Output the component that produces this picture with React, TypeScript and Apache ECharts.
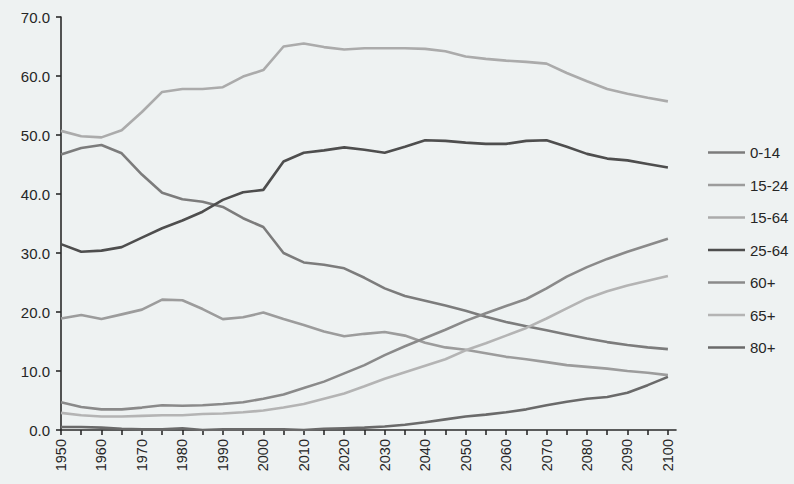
import React, { useEffect, useRef } from "react";
import * as echarts from "echarts";

const years = [1950, 1955, 1960, 1965, 1970, 1975, 1980, 1985, 1990, 1995, 2000, 2005, 2010, 2015, 2020, 2025, 2030, 2035, 2040, 2045, 2050, 2055, 2060, 2065, 2070, 2075, 2080, 2085, 2090, 2095, 2100];

const age0to14 = [46.7, 47.8, 48.3, 46.9, 43.3, 40.2, 39.1, 38.7, 37.8, 35.9, 34.4, 30.0, 28.4, 28.0, 27.4, 25.8, 24.0, 22.7, 21.9, 21.1, 20.2, 19.2, 18.3, 17.6, 16.9, 16.2, 15.5, 14.9, 14.4, 14.0, 13.7];
const age15to24 = [18.9, 19.5, 18.8, 19.6, 20.4, 22.1, 22.0, 20.5, 18.8, 19.1, 19.9, 18.8, 17.8, 16.7, 15.9, 16.3, 16.6, 16.0, 14.8, 14.0, 13.6, 13.0, 12.4, 12.0, 11.5, 11.0, 10.7, 10.4, 10.0, 9.7, 9.3];
const age15to64 = [50.7, 49.8, 49.6, 50.8, 53.9, 57.3, 57.8, 57.8, 58.1, 59.9, 61.0, 65.0, 65.5, 64.9, 64.5, 64.7, 64.7, 64.7, 64.6, 64.2, 63.3, 62.9, 62.6, 62.4, 62.1, 60.5, 59.1, 57.8, 57.0, 56.3, 55.7];
const age25to64 = [31.5, 30.2, 30.4, 31.0, 32.6, 34.2, 35.5, 37.0, 39.0, 40.3, 40.7, 45.5, 47.0, 47.4, 47.9, 47.5, 47.0, 48.0, 49.1, 49.0, 48.7, 48.5, 48.5, 49.0, 49.1, 48.0, 46.8, 46.0, 45.7, 45.1, 44.5];
const age60plus = [4.7, 3.9, 3.5, 3.5, 3.8, 4.2, 4.1, 4.2, 4.4, 4.7, 5.3, 6.0, 7.1, 8.2, 9.6, 11.0, 12.7, 14.2, 15.6, 17.0, 18.5, 19.8, 21.0, 22.2, 24.0, 26.0, 27.6, 29.0, 30.2, 31.3, 32.4];
const age65plus = [2.9, 2.5, 2.3, 2.3, 2.4, 2.5, 2.5, 2.7, 2.8, 3.0, 3.3, 3.8, 4.4, 5.3, 6.2, 7.4, 8.7, 9.8, 10.9, 12.0, 13.5, 14.7, 16.0, 17.3, 18.9, 20.6, 22.3, 23.5, 24.5, 25.3, 26.1];
const age80plus = [0.5, 0.5, 0.4, 0.2, 0.1, 0.1, 0.3, 0.0, 0.1, 0.1, 0.1, 0.1, 0.0, 0.2, 0.3, 0.4, 0.6, 0.9, 1.3, 1.8, 2.3, 2.6, 3.0, 3.5, 4.2, 4.8, 5.3, 5.6, 6.3, 7.6, 9.0];

const seriesNames = ["0-14", "15-24", "15-64", "25-64", "60+", "65+", "80+"];
const seriesValues = [age0to14, age15to24, age15to64, age25to64, age60plus, age65plus, age80plus];
const seriesColors = ["#7c7c7c", "#9c9c9c", "#ababab", "#4e4e4e", "#8a8a8a", "#b4b4b4", "#6a6a6a"];

const FONT = "'Liberation Sans', Arial, sans-serif";
const TEXT = "#262626";

export default function App() {
  const ref = useRef<HTMLDivElement>(null);

  useEffect(() => {
    if (!ref.current) return;
    const chart = echarts.init(ref.current, null, { renderer: "svg" });
    chart.setOption({
      animation: false,
      backgroundColor: "#eef2f2",
      textStyle: { fontFamily: FONT },
      grid: { left: 61, right: 118, top: 17, bottom: 54, containLabel: false },
      legend: {
        orient: "vertical",
        left: 708,
        top: 145,
        padding: 0,
        itemWidth: 37,
        itemHeight: 2.6,
        itemGap: 17.5,
        icon: "rect",
        data: seriesNames,
        textStyle: { fontSize: 15, color: TEXT, fontFamily: FONT },
        selectedMode: false,
      },
      xAxis: {
        type: "value",
        min: 1950,
        max: 2102,
        interval: 5,
        axisLine: { show: true, onZero: false, lineStyle: { color: "#2a2a2a", width: 1.6 } },
        axisTick: { show: true, length: 5, lineStyle: { color: "#2a2a2a", width: 1.6 } },
        splitLine: { show: false },
        axisLabel: {
          rotate: 90,
          margin: 9,
          fontSize: 14.5,
          color: TEXT,
          fontFamily: FONT,
          showMaxLabel: false,
          formatter: (v: number) => (v % 10 === 0 ? String(v) : ""),
        },
      },
      yAxis: {
        type: "value",
        min: 0,
        max: 70,
        interval: 10,
        axisLine: { show: true, lineStyle: { color: "#2a2a2a", width: 1.6 } },
        axisTick: { show: true, length: 5, lineStyle: { color: "#2a2a2a", width: 1.6 } },
        splitLine: { show: false },
        axisLabel: {
          margin: 11,
          fontSize: 15,
          color: TEXT,
          fontFamily: FONT,
          formatter: (v: number) => v.toFixed(1),
        },
      },
      series: seriesNames.map((name, i) => ({
        name,
        type: "line",
        symbol: "none",
        data: years.map((y, j) => [y, seriesValues[i][j]]),
        lineStyle: { color: seriesColors[i], width: 2.6 },
        itemStyle: { color: seriesColors[i] },
        z: 2,
      })),
    });
    return () => chart.dispose();
  }, []);

  return (
    <div
      ref={ref}
      style={{ position: "fixed", left: 0, top: 0, width: 794, height: 484, background: "#eef2f2" }}
    />
  );
}
